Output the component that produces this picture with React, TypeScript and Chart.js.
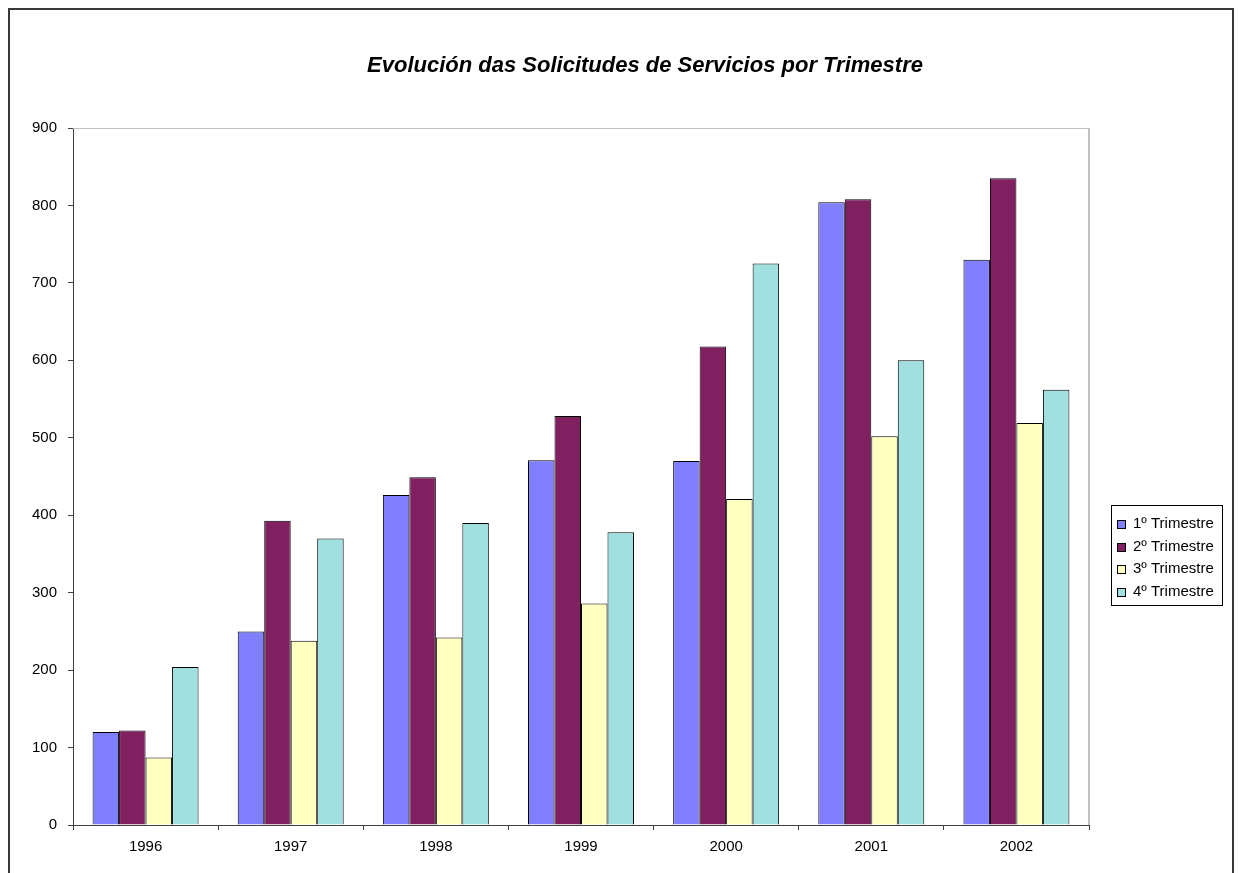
import React, { useEffect, useRef } from "react";
import { Chart, registerables } from "chart.js";

Chart.register(...registerables);

const chartTitle = "Evolución das Solicitudes de Servicios por Trimestre";
const years = ["1996", "1997", "1998", "1999", "2000", "2001", "2002"];
const seriesLabels = ["1º Trimestre", "2º Trimestre", "3º Trimestre", "4º Trimestre"];
const trimestre1 = [120, 250, 426, 471, 470, 804, 730];
const trimestre2 = [122, 393, 449, 528, 618, 808, 835];
const trimestre3 = [87, 238, 242, 286, 421, 502, 519];
const trimestre4 = [204, 370, 390, 378, 725, 600, 562];
const seriesColors = ["#8080FF", "#802060", "#FFFFC0", "#A0E0E0"];
const yMin = 0;
const yMax = 900;
const yStep = 100;

const FONT = "'Liberation Sans', Arial, sans-serif";

export default function App() {
  const ref = useRef<HTMLCanvasElement | null>(null);

  useEffect(() => {
    const canvas = ref.current;
    if (!canvas) return;
    const values = [trimestre1, trimestre2, trimestre3, trimestre4];

    const customPlugin = {
      id: "customDecor",
      beforeDatasetsDraw(chart: any) {
        const { ctx, chartArea } = chart;
        ctx.save();
        ctx.strokeStyle = "#C0C0C0";
        ctx.lineWidth = 1;
        ctx.beginPath();
        ctx.moveTo(chartArea.left, chartArea.top + 0.5);
        ctx.lineTo(chartArea.right, chartArea.top + 0.5);
        ctx.stroke();
        ctx.lineWidth = 2;
        ctx.beginPath();
        ctx.moveTo(chartArea.right, chartArea.top);
        ctx.lineTo(chartArea.right, chartArea.bottom);
        ctx.stroke();
        ctx.restore();
      },
      afterDraw(chart: any) {
        const { ctx } = chart;
        ctx.save();
        // title
        ctx.fillStyle = "#000";
        ctx.font = `italic bold 22px ${FONT}`;
        ctx.textAlign = "center";
        ctx.textBaseline = "middle";
        ctx.fillText(chartTitle, 635, 56);
        // legend
        const lx = 1101, ly = 495, lw = 111, lh = 100;
        ctx.strokeStyle = "#000";
        ctx.lineWidth = 1;
        ctx.strokeRect(lx + 0.5, ly + 0.5, lw, lh);
        ctx.font = `15px ${FONT}`;
        ctx.textAlign = "left";
        chart.data.datasets.forEach((ds: any, i: number) => {
          const cy = ly + 19 + i * 22.5;
          ctx.fillStyle = ds.backgroundColor;
          ctx.fillRect(lx + 6.5, Math.round(cy - 4) + 0.5, 8, 8);
          ctx.strokeStyle = "#000";
          ctx.strokeRect(lx + 6.5, Math.round(cy - 4) + 0.5, 8, 8);
          ctx.fillStyle = "#000";
          ctx.fillText(ds.label, lx + 22, cy);
        });
        ctx.restore();
      },
    };

    const chart = new Chart(canvas, {
      type: "bar",
      data: {
        labels: years,
        datasets: seriesLabels.map((label, i) => ({
          label,
          data: values[i],
          backgroundColor: seriesColors[i],
          borderColor: "#000000",
          borderWidth: 1,
          categoryPercentage: 0.73,
          barPercentage: 1,
        })),
      },
      options: {
        responsive: false,
        animation: false,
        devicePixelRatio: 1,
        layout: { padding: { top: 118, right: 143, left: 0, bottom: 0 } },
        plugins: {
          legend: { display: false },
          title: { display: false },
          tooltip: { enabled: false },
        },
        scales: {
          x: {
            offset: true,
            grid: {
              offset: true,
              drawOnChartArea: false,
              drawTicks: true,
              tickLength: 5,
              color: "#404040",
            },
            border: { display: true, color: "#404040", width: 1 },
            ticks: {
              color: "#000",
              font: { family: FONT, size: 15 },
              padding: 8,
              maxRotation: 0,
            },
            afterFit: (s: any) => {
              s.height = 48;
            },
          },
          y: {
            min: yMin,
            max: yMax,
            grid: {
              drawOnChartArea: false,
              drawTicks: true,
              tickLength: 5,
              color: "#404040",
            },
            border: { display: true, color: "#404040", width: 1 },
            ticks: {
              stepSize: yStep,
              color: "#000",
              font: { family: FONT, size: 15 },
              padding: 11,
            },
            afterFit: (s: any) => {
              s.width = 63;
            },
          },
        },
      },
      plugins: [customPlugin],
    });

    return () => chart.destroy();
  }, []);

  return (
    <div
      style={{
        position: "fixed",
        left: 8,
        top: 8,
        width: 1222,
        height: 865,
        borderLeft: "2px solid #3a3a3a",
        borderRight: "2px solid #3a3a3a",
        borderTop: "2px solid #3a3a3a",
        background: "#fff",
      }}
    >
      <canvas ref={ref} width={1222} height={863} style={{ display: "block", width: 1222, height: 863 }} />
    </div>
  );
}
